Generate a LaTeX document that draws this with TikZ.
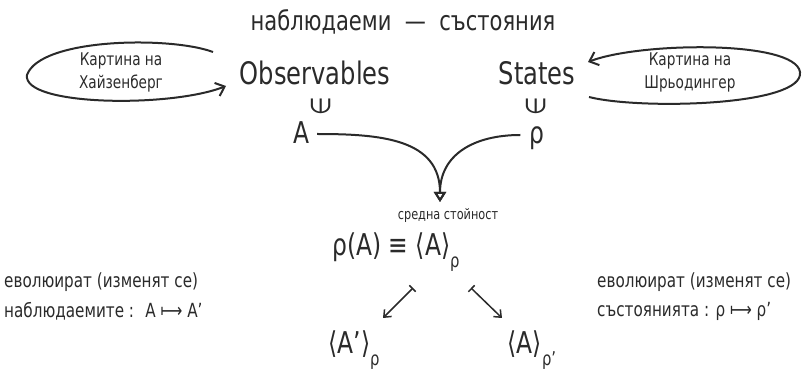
\documentclass[tikz,border=0pt]{standalone}
\usepackage{fontspec}
\setmainfont{DejaVu Sans}[FakeStretch=0.78]
\usepackage{xcolor}
\definecolor{ink}{HTML}{2A2A2A}
\usepackage{tikz}
\usetikzlibrary{arrows.meta}
\newcommand{\lowidx}[1]{\raisebox{-0.42em}{\fontsize{19}{19}\selectfont #1}}

\begin{document}
\begin{tikzpicture}[
  x=1pt,y=-1pt,
  font=\fontsize{14}{16}\selectfont,
  every node/.style={text=ink,inner sep=1pt},
  head/.style={font=\fontsize{27}{30}\selectfont},
  term/.style={font=\fontsize{30}{32}\selectfont},
  picname/.style={font=\fontsize{17.5}{23}\selectfont,align=center},
  note/.style={font=\fontsize{19.5}{20}\selectfont,anchor=west},
  elem/.style={font=\fontsize{27}{27}\selectfont,rotate=90},
  loopy/.style={-{Straight Barb[length=8pt,width=14pt]},ink,line width=2pt},
  merge/.style={-{Triangle[open,length=10pt,width=12pt]},ink,line width=2pt},
  mapsto/.style={{Bar[width=9pt]}-{Straight Barb[length=6pt,width=10pt]},ink,line width=1.5pt},
]
\useasboundingbox (0,0) rectangle (807,379);

% title
\node[head] (title) at (403,22) {наблюдаеми \ — \ състояния};

% observables / states
\node[head,font=\fontsize{31}{34}\selectfont] (obs) at (315,73) {Observables};
\node[head,font=\fontsize{31}{34}\selectfont] (sts) at (537,73) {States};

% pictures
\node[picname] (heis) at (121,72) {Картина на\\Хайзенберг};
\node[picname] (schr) at (690,72) {Картина на\\Шрьодингер};
\coordinate (hs) at (213,52);
\coordinate (he) at (226,86);
\coordinate (ss) at (589,97);
\coordinate (se) at (588,62);
\draw[loopy] (hs) .. controls (170,36) and (40,38) .. (27,75)
  .. controls (22,106) and (170,108) .. (he);
\draw[loopy] (ss) .. controls (640,110) and (805,106) .. (800,72)
  .. controls (795,40) and (640,42) .. (se);

% elements
\node[elem] (inA) at (321,106) {∈};
\node[elem] (inR) at (536,106) {∈};
\node[term] (A) at (302,133) {A};
\node[term] (rho) at (537,138) {ρ};

% expectation value
\node[font=\fontsize{14.5}{16}\selectfont] (mean) at (448,216) {средна стойност};
\coordinate (tip) at (440,202);
\draw[merge] (A.east) ++(6,1) to[out=0,in=90,looseness=1.15] (tip);
\draw[merge] (rho.west) ++(-8,-3) to[out=180,in=90,looseness=1.15] (tip);
\node[term] (expv) at (396,252) {ρ(A) ≡ ⟨A⟩\lowidx{ρ}};

% evolution
\coordinate (la) at (413,288);
\coordinate (lb) at (383,318);
\coordinate (ra) at (471,288);
\coordinate (rb) at (502,318);
\draw[mapsto] (la) -- (lb);
\draw[mapsto] (ra) -- (rb);
\node[term] (evA) at (354,350) {⟨A’⟩\lowidx{ρ}};
\node[term] (evR) at (532,350) {⟨A⟩\lowidx{ρ’}};

% side notes
\node[note] (l1) at (3,282) {еволюират (изменят се)};
\node[note] (l2) at (3,311) {наблюдаемите : \ A ⟼ A’};
\node[note] (r1) at (596,282) {еволюират (изменят се)};
\node[note] (r2) at (596,311) {състоянията : ρ ⟼ ρ’};
\end{tikzpicture}
\end{document}
